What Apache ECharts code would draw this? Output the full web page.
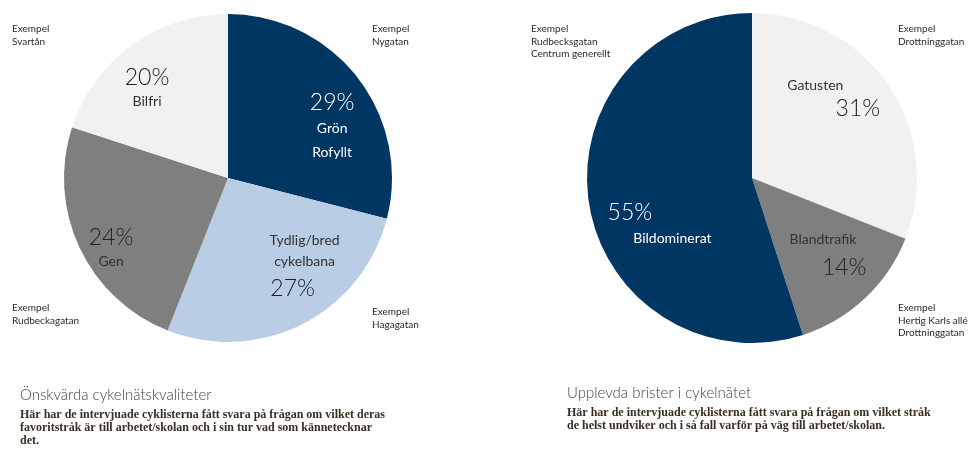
<!DOCTYPE html>
<html>
<head>
<meta charset="utf-8">
<script src="https://cdn.jsdelivr.net/npm/echarts@6/dist/echarts.min.js"></script>
<style>html,body{margin:0;padding:0;background:#fff}#c{width:979px;height:449px}</style>
</head>
<body>
<div id="c"></div>
<script>
// Left pie: Önskvärda cykelnätskvaliteter
var leftNames = ['Grön\nRofyllt', 'Tydlig/bred\ncykelbana', 'Gen', 'Bilfri'];
var leftValues = [29, 27, 24, 20];
// Right pie: Upplevda brister i cykelnätet
var rightNames = ['Gatusten', 'Blandtrafik', 'Bildominerat'];
var rightValues = [31, 14, 55];

var leftTitle = 'Önskvärda cykelnätskvaliteter';
var leftSub = 'Här har de intervjuade cyklisterna fått svara på frågan om vilket deras\nfavoritstråk är till arbetet/skolan och i sin tur vad som kännetecknar\ndet.';
var rightTitle = 'Upplevda brister i cykelnätet';
var rightSub = 'Här har de intervjuade cyklisterna fått svara på frågan om vilket stråk\nde helst undviker och i så fall varför på väg till arbetet/skolan.';

var notes = [
  'Exempel\nSvartån', 'Exempel\nNygatan', 'Exempel\nRudbeckagatan', 'Exempel\nHagagatan',
  'Exempel\nRudbecksgatan\nCentrum generellt', 'Exempel\nDrottninggatan', 'Exempel\nHertig Karls allé\nDrottninggatan'
];

var NAVY = '#003662', LBLUE = '#b9cde5', GRAY = '#7f7f7f', LGRAY = '#f1f1f1';
var FONT = 'Lato, "Open Sans", sans-serif';

function pctFmt(p){ return Math.round(p) + '%'; }

var leftStyles = [
  {color: NAVY, offset: [37, 1], fmt: function(n,p){ return '{pw|' + pctFmt(p) + '}\n{nw|' + n.replace('\n','}\n{nw|') + '}'; }},
  {color: LBLUE, offset: [38, 14], fmt: function(n,p){ return '{nd|' + n.replace('\n','}\n{nd|') + '}\n{pdl|' + pctFmt(p) + '}'; }},
  {color: GRAY, offset: [-40, 34], fmt: function(n,p){ return '{pd|' + pctFmt(p) + '}\n{nd|' + n + '}'; }},
  {color: LGRAY, offset: [-31, -21], fmt: function(n,p){ return '{pd|' + pctFmt(p) + '}\n{nd|' + n + '}'; }}
];
var rightStyles = [
  {color: LGRAY, offset: [12, -31], width: 95, fmt: function(n,p){ return '{ndl|' + n + '}\n{pdr|' + pctFmt(p) + '}'; }},
  {color: GRAY, offset: [17, 17], width: 82, fmt: function(n,p){ return '{ndl2|' + n + '}\n{pdr2|' + pctFmt(p) + '}'; }},
  {color: NAVY, offset: [-10, 33], width: 108, fmt: function(n,p){ return '{pwl|' + pctFmt(p) + '}\n{nwr|' + n + '}'; }}
];

var rich = {
  pw: {fontFamily: FONT, fontSize: 23, fontWeight: 300, color: '#ffffff', lineHeight: 27},
  pwl: {fontFamily: FONT, fontSize: 23, fontWeight: 300, color: '#ffffff', lineHeight: 28, align: 'left', padding: [0, 0, 0, 4]},
  nw: {fontFamily: FONT, fontSize: 14, color: '#ffffff', lineHeight: 24},
  nwr: {fontFamily: FONT, fontSize: 14, color: '#ffffff', lineHeight: 24, align: 'right'},
  pd: {fontFamily: FONT, fontSize: 23, fontWeight: 300, color: '#222222', lineHeight: 26},
  pdl: {fontFamily: FONT, fontSize: 23, fontWeight: 300, color: '#222222', lineHeight: 34, padding: [0, 24, 0, 0]},
  pdr: {fontFamily: FONT, fontSize: 23, fontWeight: 300, color: '#222222', lineHeight: 26, align: 'right', padding: [0, 2, 0, 0]},
  pdr2: {fontFamily: FONT, fontSize: 23, fontWeight: 300, color: '#222222', lineHeight: 36, align: 'right', padding: [0, 2, 0, 0]},
  nd: {fontFamily: FONT, fontSize: 14, color: '#333333', lineHeight: 21},
  ndl: {fontFamily: FONT, fontSize: 14, color: '#333333', lineHeight: 20, align: 'left'},
  ndl2: {fontFamily: FONT, fontSize: 14, color: '#333333', lineHeight: 20, align: 'left', padding: [0, 0, 0, 3]}
};

function buildData(names, values, styles){
  return names.map(function(n, i){
    var s = styles[i];
    var lab = {offset: s.offset, formatter: (function(f){ return function(p){ return f(p.name, p.percent); }; })(s.fmt)};
    if (s.width) lab.width = s.width;
    return {name: n, value: values[i], itemStyle: {color: s.color}, label: lab};
  });
}

var noteStyle = {font: '10px ' + FONT, fill: '#2a2a2a', lineHeight: 12.5};
var notePos = [[12, 23], [372, 23], [12, 302], [372, 306], [531, 23], [898, 23], [898, 302]];

var option = {
  backgroundColor: '#ffffff',
  animation: false,
  title: [
    {text: leftTitle, subtext: leftSub, left: 15, top: 383, itemGap: 5,
     textStyle: {fontFamily: FONT, fontSize: 15, fontWeight: 300, color: '#444444'},
     subtextStyle: {fontFamily: '"Liberation Serif", serif', fontSize: 12, fontWeight: 'bold', color: '#3a2e22', lineHeight: 13}},
    {text: rightTitle, subtext: rightSub, left: 562, top: 381, itemGap: 5,
     textStyle: {fontFamily: FONT, fontSize: 15, fontWeight: 300, color: '#444444'},
     subtextStyle: {fontFamily: '"Liberation Serif", serif', fontSize: 12, fontWeight: 'bold', color: '#3a2e22', lineHeight: 13.5}}
  ],
  graphic: notes.map(function(t, i){
    return {type: 'text', left: notePos[i][0], top: notePos[i][1], style: Object.assign({text: t}, noteStyle)};
  }),
  series: [
    {type: 'pie', center: [228, 178], radius: [0, 164], startAngle: 90, clockwise: true,
     label: {show: true, position: 'inside', rich: rich}, labelLine: {show: false},
     itemStyle: {borderWidth: 0}, emphasis: {disabled: true},
     data: buildData(leftNames, leftValues, leftStyles)},
    {type: 'pie', center: [752, 178], radius: [0, 165], startAngle: 90, clockwise: true,
     label: {show: true, position: 'inside', rich: rich}, labelLine: {show: false},
     itemStyle: {borderWidth: 0}, emphasis: {disabled: true},
     data: buildData(rightNames, rightValues, rightStyles)}
  ]
};
echarts.init(document.getElementById('c')).setOption(option);
</script>
</body>
</html>
